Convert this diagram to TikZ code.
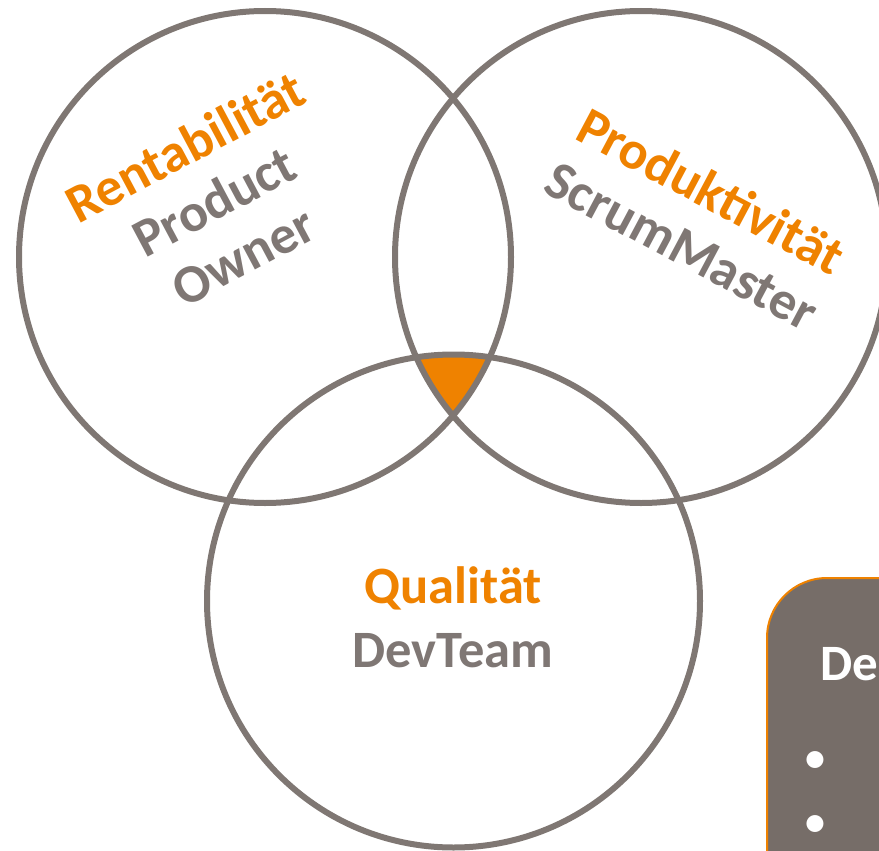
\documentclass[tikz,border=0pt]{standalone}
\usepackage{fontspec}
\setmainfont{Carlito}
\definecolor{ringgray}{HTML}{7F7773}
\definecolor{txtgray}{HTML}{7F7774}
\definecolor{accent}{HTML}{EF8200}
\definecolor{boxgray}{HTML}{766D68}
\begin{document}
\begin{tikzpicture}[x=1pt,y=-1pt,
  ring/.style={draw=ringgray,line width=6pt},
  lbl/.style={font=\bfseries\fontsize{54}{62}\selectfont,align=center,inner sep=0pt},
  qlbl/.style={font=\bfseries\fontsize{52.5}{64}\selectfont,align=center,inner sep=0pt},
  infobox/.style={fill=boxgray,draw=accent,line width=2pt,rounded corners=60pt},
  bullet/.style={font=\fontsize{48}{60}\selectfont,text=white,inner sep=0pt}]
\useasboundingbox (0,0) rectangle (879,851);
\clip (0,0) rectangle (879,851);
% orange triple intersection
\begin{scope}
  \clip (265,257) circle (246);
  \clip (641,257) circle (246);
  \fill[accent] (453.5,601) circle (246.5);
\end{scope}
\draw[ring] (265,257) circle (246) coordinate (cl);
\draw[ring] (641,257) circle (246) coordinate (cr);
\draw[ring] (453.5,601) circle (246.5) coordinate (cb);
% labels
\node[lbl,rotate=28] (lt) at (214,201) {\textcolor{accent}{Rentabilität}\\\textcolor{txtgray}{Product}\\\textcolor{txtgray}{Owner}};
\node[lbl,rotate=-28] (rt) at (697,218) {\textcolor{accent}{Produktivität}\\\textcolor{txtgray}{ScrumMaster}};
\node[qlbl] (bt) at (453,617) {\textcolor{accent}{Qualität}\\\textcolor{txtgray}{DevTeam}};
% info box
\draw[infobox] (767,578) rectangle (1100,1000);
\node[font=\bfseries\fontsize{51}{60}\selectfont,text=white,anchor=base west,inner sep=0pt] (bh) at (820,680) {De};
\node[bullet] (b1) at (815,763) {•};
\node[bullet] (b2) at (815,827) {•};
\end{tikzpicture}
\end{document}
